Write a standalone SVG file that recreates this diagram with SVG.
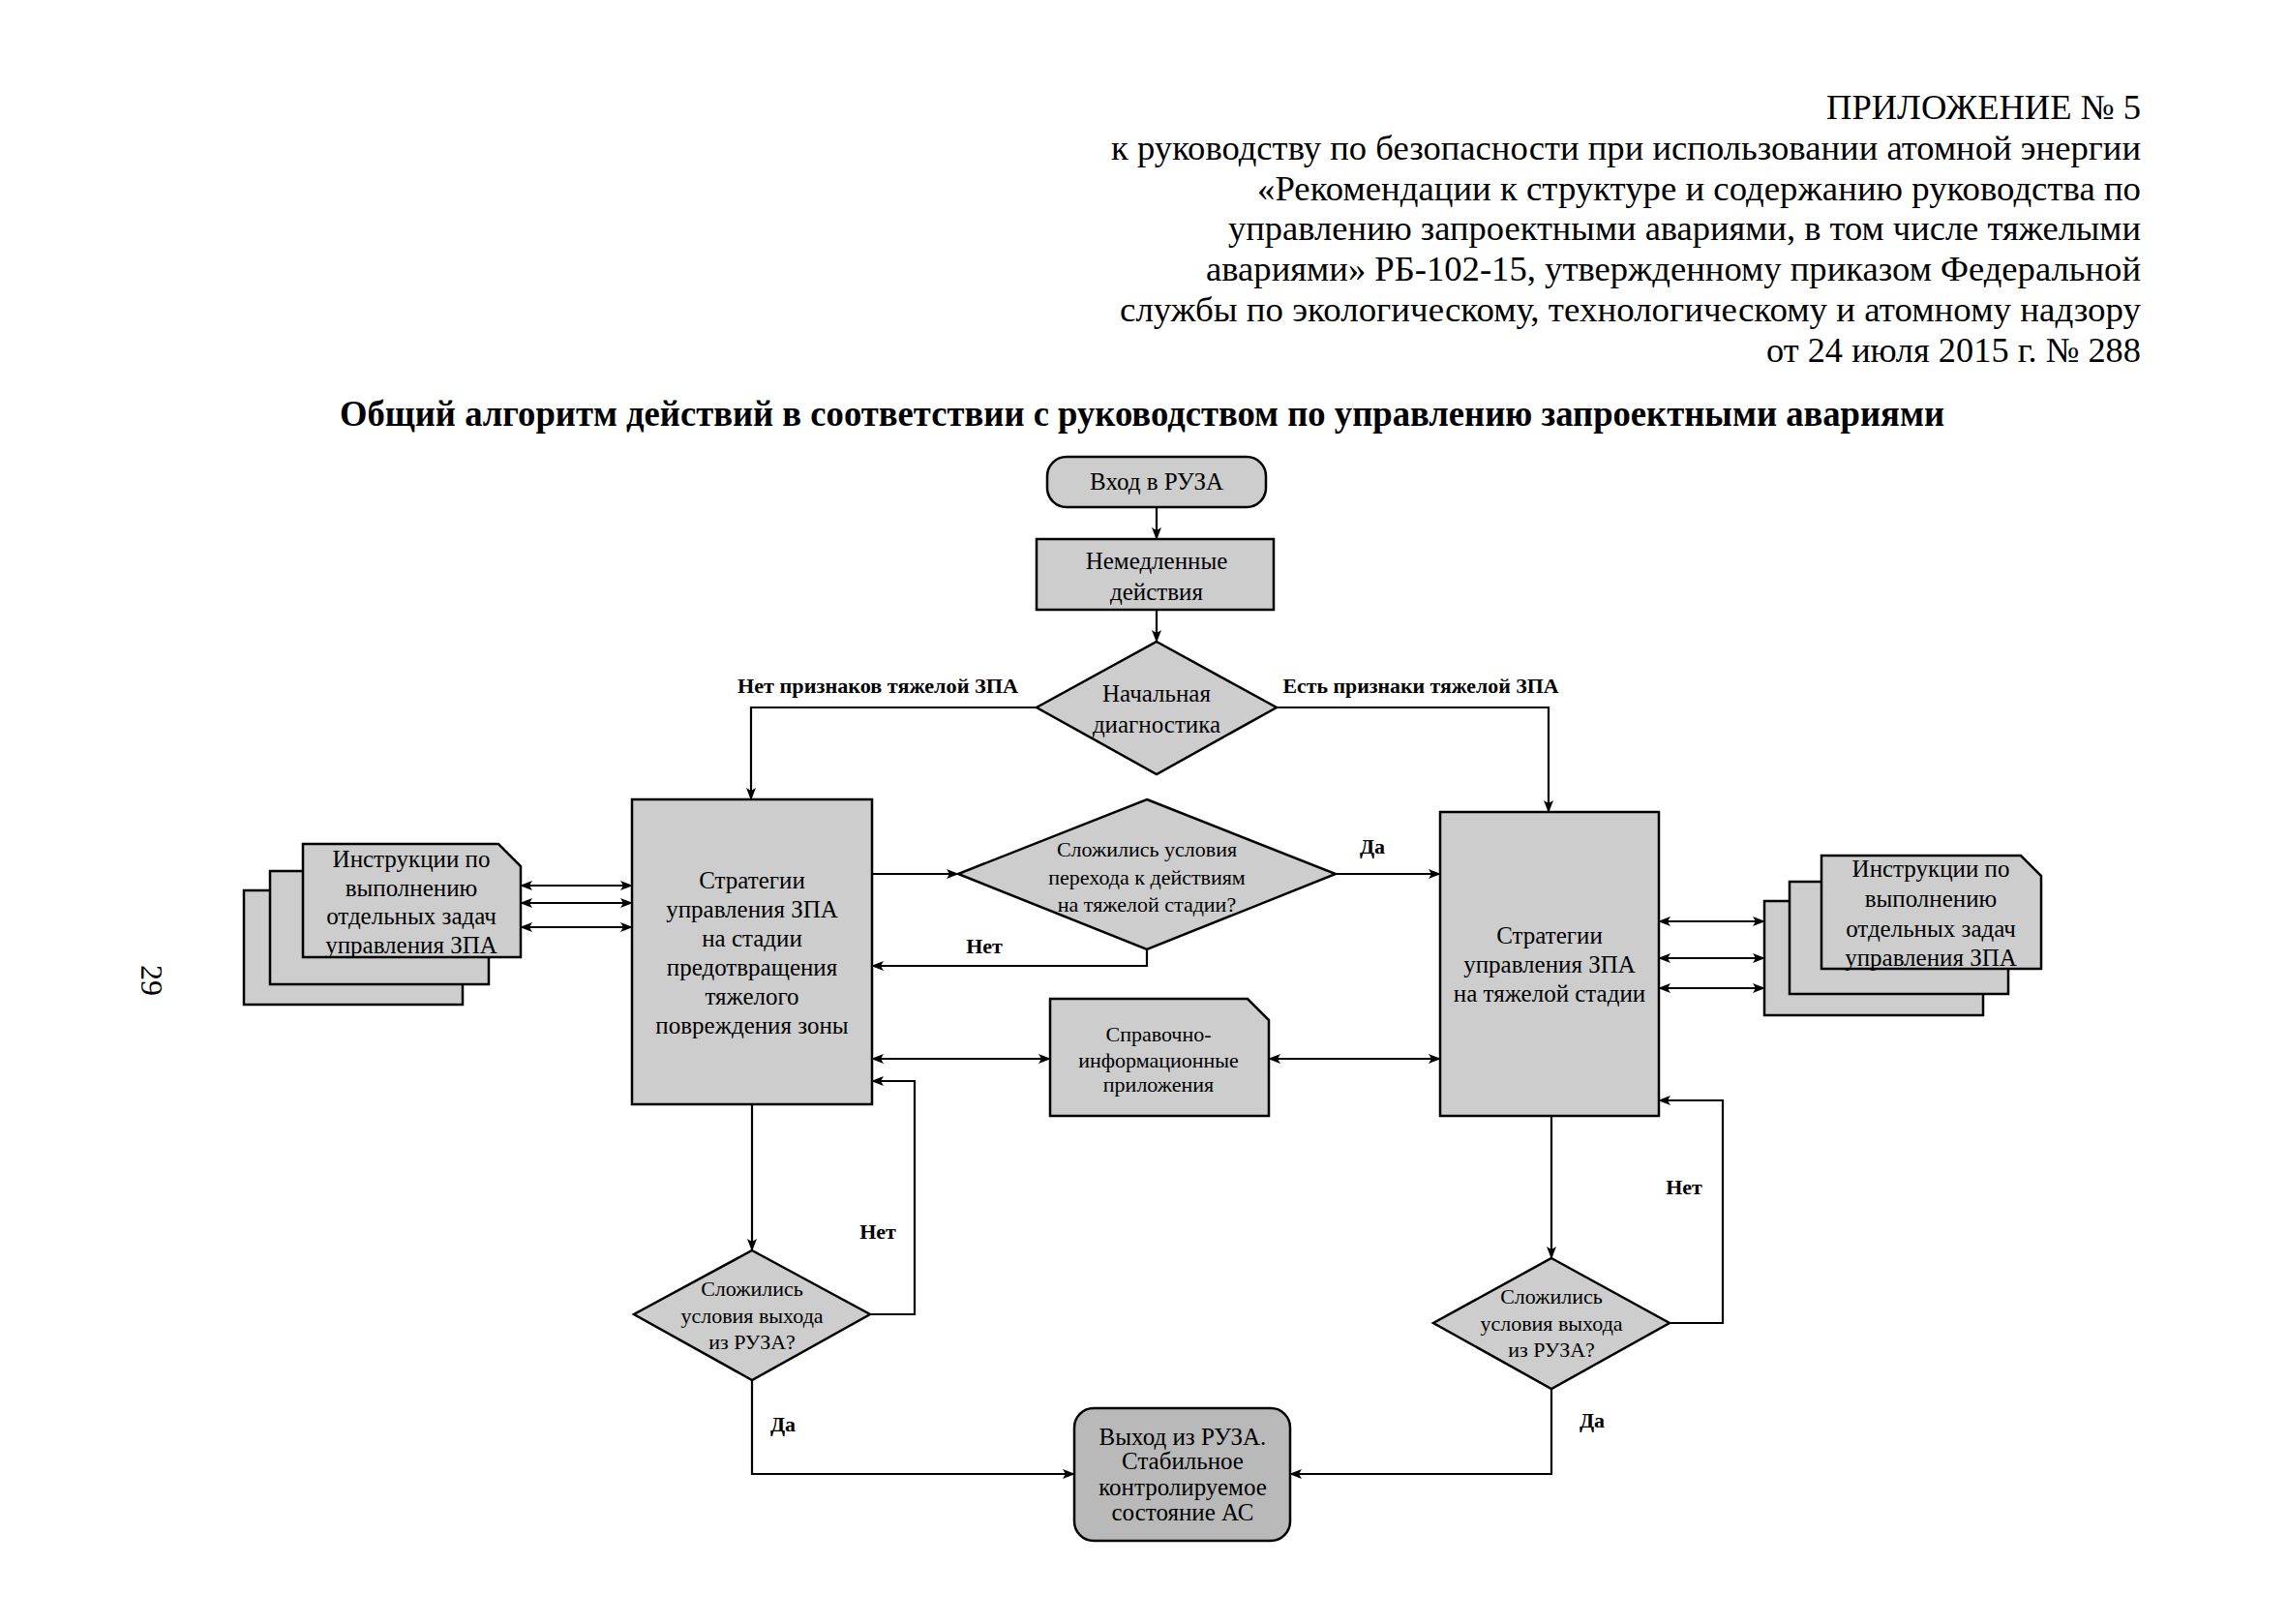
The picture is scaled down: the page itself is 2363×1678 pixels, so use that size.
<svg xmlns="http://www.w3.org/2000/svg" width="2363" height="1678" viewBox="0 0 2363 1678">
<defs>
<style>
.box{fill:#cdcdcd;stroke:#000;stroke-width:2.5}
.dark{fill:#b9b9b9}
.ln{fill:none;stroke:#000;stroke-width:2.2}
.a{marker-end:url(#ah)}
.aa{marker-start:url(#ah);marker-end:url(#ah)}
text{font-family:"Liberation Serif","Times New Roman",serif;fill:#000}
.t{font-size:25px;text-anchor:middle}
.d{font-size:22px;text-anchor:middle}
.b{font-size:22px;font-weight:bold;text-anchor:middle}
.h{font-size:36px;text-anchor:end}
</style>
<marker id="ah" viewBox="0 0 13 10" refX="12" refY="5" markerWidth="13" markerHeight="10" markerUnits="userSpaceOnUse" orient="auto-start-reverse">
<path d="M0,0 L13,5 L0,10 L3,5 Z" fill="#000"/>
</marker>
</defs>
<rect width="2363" height="1678" fill="#fff"/>

<g id="header">
<text class="h" x="2212" y="123" textLength="325" lengthAdjust="spacingAndGlyphs">ПРИЛОЖЕНИЕ № 5</text>
<text class="h" x="2212" y="165" textLength="1064" lengthAdjust="spacingAndGlyphs">к руководству по безопасности при использовании атомной энергии</text>
<text class="h" x="2212" y="207" textLength="913" lengthAdjust="spacingAndGlyphs">«Рекомендации к структуре и содержанию руководства по</text>
<text class="h" x="2212" y="248" textLength="943" lengthAdjust="spacingAndGlyphs">управлению запроектными авариями, в том числе тяжелыми</text>
<text class="h" x="2212" y="290" textLength="966" lengthAdjust="spacingAndGlyphs">авариями» РБ-102-15, утвержденному приказом Федеральной</text>
<text class="h" x="2212" y="332" textLength="1055" lengthAdjust="spacingAndGlyphs">службы по экологическому, технологическому и атомному надзору</text>
<text class="h" x="2212" y="374" textLength="387" lengthAdjust="spacingAndGlyphs">от 24 июля 2015 г. № 288</text>
</g>
<g id="title">
<text x="1180" y="440" font-size="37" font-weight="bold" text-anchor="middle" textLength="1658" lengthAdjust="spacingAndGlyphs">Общий алгоритм действий в соответствии с руководством по управлению запроектными авариями</text>
</g>
<g id="page-number">
<text x="146" y="1013" font-size="32" text-anchor="middle" transform="rotate(90 146 1013)">29</text>
</g>

<g id="connectors">
<path class="ln a" d="M1195,524 V557"/>
<path class="ln a" d="M1195,630 V663"/>
<path class="ln a" d="M1071,731 H776 V826"/>
<path class="ln a" d="M1319,731 H1600 V839"/>
<path class="ln aa" d="M538,915 H653"/>
<path class="ln aa" d="M538,933 H653"/>
<path class="ln aa" d="M538,958 H653"/>
<path class="ln a" d="M901,903 H990"/>
<path class="ln a" d="M1380,903 H1488"/>
<path class="ln a" d="M1185,981 V998 H901"/>
<path class="ln aa" d="M1714,952 H1823"/>
<path class="ln aa" d="M1714,990 H1823"/>
<path class="ln aa" d="M1714,1021 H1823"/>
<path class="ln aa" d="M901,1094 H1085"/>
<path class="ln aa" d="M1311,1094 H1488"/>
<path class="ln a" d="M777,1141 V1292"/>
<path class="ln a" d="M899,1358 H945 V1117 H901"/>
<path class="ln a" d="M777,1426 V1523 H1110"/>
<path class="ln a" d="M1603,1153 V1300"/>
<path class="ln a" d="M1725,1367 H1780 V1137 H1714"/>
<path class="ln a" d="M1603,1435 V1523 H1333"/>
<text class="b" x="907" y="716" textLength="290" lengthAdjust="spacingAndGlyphs">Нет признаков тяжелой ЗПА</text>
<text class="b" x="1468" y="716" textLength="285" lengthAdjust="spacingAndGlyphs">Есть признаки тяжелой ЗПА</text>
<text class="b" x="1418" y="882">Да</text>
<text class="b" x="1017" y="985">Нет</text>
<text class="b" x="907" y="1280">Нет</text>
<text class="b" x="809" y="1479">Да</text>
<text class="b" x="1740" y="1234">Нет</text>
<text class="b" x="1645" y="1475">Да</text>
</g>

<g id="start">
<rect class="box" x="1082" y="472" width="226" height="52" rx="20"/>
<text class="t" x="1195" y="506">Вход в РУЗА</text>
</g>
<g id="immediate">
<rect class="box" x="1071" y="557" width="245" height="73"/>
<text class="t" x="1195" y="588">Немедленные</text>
<text class="t" x="1195" y="620">действия</text>
</g>
<g id="initial-diagnostics">
<polygon class="box" points="1195,663 1319,731 1195,800 1071,731"/>
<text class="t" x="1195" y="725">Начальная</text>
<text class="t" x="1195" y="757">диагностика</text>
</g>
<g id="strategy-prevent">
<rect class="box" x="653" y="826" width="248" height="315"/>
<text class="t" x="777" y="918">Стратегии</text>
<text class="t" x="777" y="948">управления ЗПА</text>
<text class="t" x="777" y="978">на стадии</text>
<text class="t" x="777" y="1008">предотвращения</text>
<text class="t" x="777" y="1038">тяжелого</text>
<text class="t" x="777" y="1068">повреждения зоны</text>
</g>
<g id="instructions-left">
<rect class="box" x="252" y="920" width="226" height="118"/>
<rect class="box" x="279" y="900" width="226" height="117"/>
<path class="box" d="M313,872 H515 L538,895 V989 H313 Z"/>
<text class="t" x="425" y="896">Инструкции по</text>
<text class="t" x="425" y="926">выполнению</text>
<text class="t" x="425" y="955">отдельных задач</text>
<text class="t" x="425" y="985">управления ЗПА</text>
</g>
<g id="transition-decision">
<polygon class="box" points="1185,826 1380,903 1185,981 990,903"/>
<text class="d" x="1185" y="885">Сложились условия</text>
<text class="d" x="1185" y="914">перехода к действиям</text>
<text class="d" x="1185" y="942">на тяжелой стадии?</text>
</g>
<g id="strategy-severe">
<rect class="box" x="1488" y="839" width="226" height="314"/>
<text class="t" x="1601" y="975">Стратегии</text>
<text class="t" x="1601" y="1005">управления ЗПА</text>
<text class="t" x="1601" y="1035">на тяжелой стадии</text>
</g>
<g id="instructions-right">
<rect class="box" x="1823" y="931" width="226" height="118"/>
<rect class="box" x="1849" y="911" width="226" height="116"/>
<path class="box" d="M1882,884 H2088 L2109,905 V1001 H1882 Z"/>
<text class="t" x="1995" y="906">Инструкции по</text>
<text class="t" x="1995" y="937">выполнению</text>
<text class="t" x="1995" y="968">отдельных задач</text>
<text class="t" x="1995" y="998">управления ЗПА</text>
</g>
<g id="reference-appendices">
<path class="box" d="M1085,1032 H1289 L1311,1054 V1153 H1085 Z"/>
<text class="d" x="1197" y="1076" font-size="23">Справочно-</text>
<text class="d" x="1197" y="1103" font-size="23">информационные</text>
<text class="d" x="1197" y="1128" font-size="23">приложения</text>
</g>
<g id="exit-decision-left">
<polygon class="box" points="777,1292 899,1358 777,1426 655,1358"/>
<text class="d" x="777" y="1339">Сложились</text>
<text class="d" x="777" y="1367">условия выхода</text>
<text class="d" x="777" y="1394">из РУЗА?</text>
</g>
<g id="exit-decision-right">
<polygon class="box" points="1603,1300 1725,1367 1603,1435 1481,1367"/>
<text class="d" x="1603" y="1347">Сложились</text>
<text class="d" x="1603" y="1375">условия выхода</text>
<text class="d" x="1603" y="1402">из РУЗА?</text>
</g>
<g id="exit">
<rect class="box dark" x="1110" y="1455" width="223" height="137" rx="20"/>
<text class="t" x="1222" y="1493" font-size="24">Выход из РУЗА.</text>
<text class="t" x="1222" y="1518" font-size="24">Стабильное</text>
<text class="t" x="1222" y="1545" font-size="24">контролируемое</text>
<text class="t" x="1222" y="1571" font-size="24">состояние АС</text>
</g>
</svg>
